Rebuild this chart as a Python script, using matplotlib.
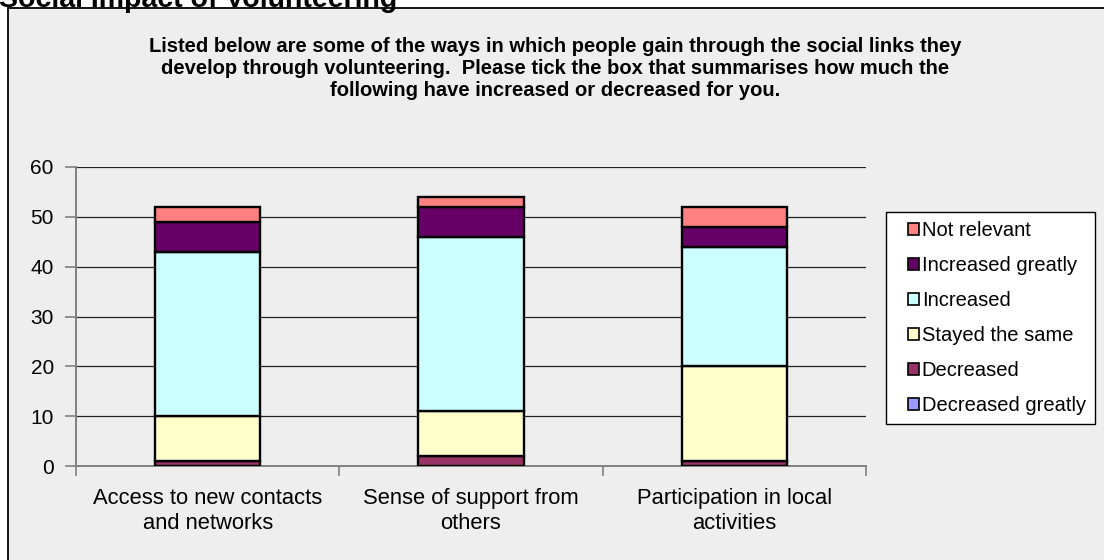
import numpy as np
import matplotlib
matplotlib.use("Agg")
import matplotlib.pyplot as plt
from matplotlib.patches import Rectangle, Patch
from matplotlib.legend_handler import HandlerPatch

# =========================
# DATA
# =========================
categories = ["Access to new contacts\nand networks",
              "Sense of support from\nothers",
              "Participation in local\nactivities"]

series_names = ["Decreased greatly", "Decreased", "Stayed the same",
                "Increased", "Increased greatly", "Not relevant"]

decreased_greatly = [0, 0, 0]
decreased = [1, 2, 1]
stayed_same = [9, 9, 19]
increased = [33, 35, 24]
increased_greatly = [6, 6, 4]
not_relevant = [3, 2, 4]

colors = ["#9999FF", "#993366", "#FFFFCC", "#CCFFFF", "#660066", "#FF8080"]

subtitle = ("Listed below are some of the ways in which people gain through the social links they\n"
            "develop through volunteering.  Please tick the box that summarises how much the\n"
            "following have increased or decreased for you.")

# =========================
# FIGURE
# =========================
plt.rcParams["font.family"] = ["Liberation Sans", "DejaVu Sans"]

W, H = 1104, 560
fig = plt.figure(figsize=(W / 100, H / 100), dpi=100, facecolor="white")

# chart area frame (runs off the right and bottom edges)
fig.patches.append(Rectangle((8 / W, -0.1), 1.2, 1 - 8 / H + 0.1,
                             transform=fig.transFigure, facecolor="#EEEEEE",
                             edgecolor="black", linewidth=1.3, zorder=-5))

fig.text(-1 / W, 1 - 7 / H, "Social Impact of Volunteering", fontsize=20.5,
         fontweight="bold", ha="left", va="baseline")

fig.text(555 / W, 1 - 69 / H, subtitle, fontsize=14.5, fontweight="bold",
         ha="center", va="center", linespacing=1.2)

ax = fig.add_axes([76 / W, 1 - 466 / H, 790 / W, 299 / H])
ax.set_facecolor("none")

x = np.arange(len(categories))
width = 0.40
all_series = [decreased_greatly, decreased, stayed_same,
              increased, increased_greatly, not_relevant]

bottom = np.zeros(len(categories))
for vals, name, c in zip(all_series, series_names, colors):
    ax.bar(x, vals, width, bottom=bottom, color=c, edgecolor="black",
           linewidth=1.7, label=name, zorder=3)
    bottom += np.array(vals)

ax.set_xlim(-0.5, 2.5)
ax.set_ylim(0, 60)
ax.set_yticks(range(0, 61, 10))
ax.yaxis.grid(True, color="#222222", linewidth=0.9, zorder=1)
ax.set_axisbelow(True)

ax.set_xticks(x)
ax.set_xticklabels(categories, fontsize=15.8, linespacing=1.22)
ax.tick_params(axis="x", length=0, pad=16)
ax.set_xticks([-0.5, 0.5, 1.5, 2.5], minor=True)
ax.tick_params(axis="x", which="minor", length=7, color="#808080", width=1.2)
ax.tick_params(axis="y", length=8, color="#808080", width=1.2,
               labelsize=15, pad=8)

for s in ["top", "right"]:
    ax.spines[s].set_visible(False)
for s in ["left", "bottom"]:
    ax.spines[s].set_color("#808080")
    ax.spines[s].set_linewidth(1.4)

handles = [Patch(facecolor=c, edgecolor="black", linewidth=1.2, label=n)
           for n, c in zip(series_names, colors)][::-1]
leg = fig.legend(handles=handles, loc="upper left",
                 bbox_to_anchor=(886 / W, 1 - 212 / H), fontsize=14.5,
                 frameon=True, fancybox=False, framealpha=1,
                 edgecolor="black", facecolor="white",
                 handlelength=1.15, handleheight=0.55, handletextpad=0.15,
                 labelspacing=0.79, borderpad=0.47, borderaxespad=0,
                 handler_map={Patch: HandlerPatch(xpad=0.6)})
leg.get_frame().set_linewidth(1.0)

plt.savefig("out.png", dpi=100, facecolor="white")
